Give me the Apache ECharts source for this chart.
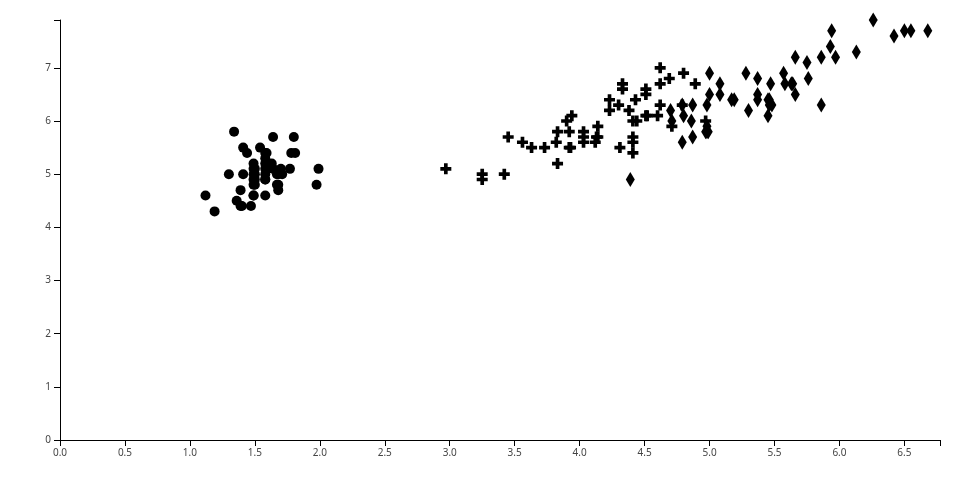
<!DOCTYPE html>
<html>
<head>
<meta charset="utf-8">
<script src="https://cdn.jsdelivr.net/npm/echarts@6/dist/echarts.min.js"></script>
<style>
html,body{margin:0;padding:0;background:#fff;}
#chart{width:960px;height:500px;}
</style>
</head>
<body>
<div id="chart"></div>
<script>
// Setosa (circles)
var setosaX = [1.49,1.49,1.39,1.58,1.50,1.78,1.49,1.58,1.47,1.58,1.58,1.68,1.49,1.19,1.34,1.64,1.44,1.50,1.80,1.58,1.81,1.59,1.12,1.77,1.975,1.68,1.71,1.58,1.49,1.68,1.67,1.59,1.63,1.54,1.58,1.30,1.41,1.50,1.39,1.64,1.41,1.36,1.40,1.67,1.99,1.50,1.70,1.49,1.58,1.49];
var setosaY = [5.1,4.9,4.7,4.6,5.0,5.4,4.6,5.0,4.4,4.9,5.4,4.8,4.8,4.3,5.8,5.7,5.4,5.1,5.7,5.1,5.4,5.1,4.6,5.1,4.8,5.0,5.0,5.2,5.2,4.7,4.8,5.4,5.2,5.5,4.9,5.0,5.5,4.9,4.4,5.1,5.0,4.5,4.4,5.0,5.1,4.8,5.1,4.6,5.3,5.0];
// Versicolor (crosses)
var versicolorX = [4.62,4.43,4.80,3.92,4.51,4.41,4.62,3.25,4.51,3.83,3.42,4.14,3.90,4.60,3.56,4.33,4.41,4.03,4.38,3.82,4.71,3.94,4.79,4.52,4.23,4.33,4.69,4.89,4.41,3.45,3.63,3.73,3.83,4.97,4.41,4.44,4.62,4.30,4.03,3.93,4.31,4.51,3.92,3.25,4.12,4.13,4.14,4.23,2.97,4.03];
var versicolorY = [7.0,6.4,6.9,5.5,6.5,5.7,6.3,4.9,6.6,5.2,5.0,5.9,6.0,6.1,5.6,6.7,5.6,5.8,6.2,5.6,5.9,6.1,6.3,6.1,6.4,6.6,6.8,6.7,6.0,5.7,5.5,5.5,5.8,6.0,5.4,6.0,6.7,6.3,5.6,5.5,5.5,6.1,5.8,5.0,5.6,5.7,5.7,6.2,5.1,5.7];
// Virginica (diamonds)
var virginicaX = [5.86,4.97,5.75,5.46,5.66,6.42,4.39,6.13,5.64,5.97,5.00,5.17,5.37,4.87,4.98,5.19,5.37,6.50,6.68,4.86,5.57,4.79,6.55,4.79,5.58,5.86,4.70,4.80,5.45,5.66,5.93,6.26,5.46,4.98,5.45,5.94,5.48,5.37,4.71,5.28,5.47,5.00,4.99,5.76,5.63,5.08,4.87,5.08,5.30,4.98];
var virginicaY = [6.3,5.8,7.1,6.3,6.5,7.6,4.9,7.3,6.7,7.2,6.5,6.4,6.8,5.7,5.8,6.4,6.5,7.7,7.7,6.0,6.9,5.6,7.7,6.3,6.7,7.2,6.2,6.1,6.4,7.2,7.4,7.9,6.4,6.3,6.1,7.7,6.3,6.4,6.0,6.9,6.7,6.9,5.8,6.8,6.7,6.7,6.3,6.5,6.2,5.9];

var xMax = 6.774;
var yMax = 7.9;

function pairs(xs, ys) { return xs.map(function (x, i) { return [x, ys[i]]; }); }

var crossPath = 'path://M4,0L8,0L8,4L12,4L12,8L8,8L8,12L4,12L4,8L0,8L0,4L4,4Z';
var labelStyle = { color: '#444', fontSize: 10, fontFamily: 'Noto Sans' };

var chart = echarts.init(document.getElementById('chart'), null, { renderer: 'canvas' });
chart.setOption({
  animation: false,
  backgroundColor: '#fff',
  grid: { left: 60, right: 20, top: 20, bottom: 60, containLabel: false },
  xAxis: [{
    type: 'value', min: 0, max: xMax, interval: 0.5, position: 'bottom',
    splitLine: { show: false },
    axisLine: { show: true, onZero: false, lineStyle: { color: '#000', width: 1 } },
    axisTick: { show: true, length: 6, inside: false, lineStyle: { color: '#000' } },
    axisLabel: Object.assign({ margin: 8, showMaxLabel: false, formatter: function (v) { return v.toFixed(1); } }, labelStyle)
  }, {
    type: 'value', min: 0, max: xMax, interval: xMax, position: 'bottom',
    splitLine: { show: false },
    axisLine: { show: false },
    axisTick: { show: true, length: 6, lineStyle: { color: '#000' } },
    axisLabel: { show: false }
  }],
  yAxis: [{
    type: 'value', min: 0, max: yMax, interval: 1, position: 'left',
    splitLine: { show: false },
    axisLine: { show: true, onZero: false, lineStyle: { color: '#000', width: 1 } },
    axisTick: { show: true, length: 6, lineStyle: { color: '#000' } },
    axisLabel: Object.assign({ margin: 9, showMaxLabel: false }, labelStyle)
  }, {
    type: 'value', min: 0, max: yMax, interval: yMax, position: 'left',
    splitLine: { show: false },
    axisLine: { show: false },
    axisTick: { show: true, length: 6, lineStyle: { color: '#000' } },
    axisLabel: { show: false }
  }],
  series: [{
    name: 'setosa', type: 'scatter', symbol: 'circle', symbolSize: 10,
    itemStyle: { color: '#000', opacity: 1 },
    data: pairs(setosaX, setosaY)
  }, {
    name: 'versicolor', type: 'scatter', symbol: crossPath, symbolSize: 11,
    itemStyle: { color: '#000', opacity: 1 },
    data: pairs(versicolorX, versicolorY)
  }, {
    name: 'virginica', type: 'scatter', symbol: 'diamond', symbolSize: [9, 15],
    itemStyle: { color: '#000', opacity: 1 },
    data: pairs(virginicaX, virginicaY)
  }]
});
</script>
</body>
</html>
